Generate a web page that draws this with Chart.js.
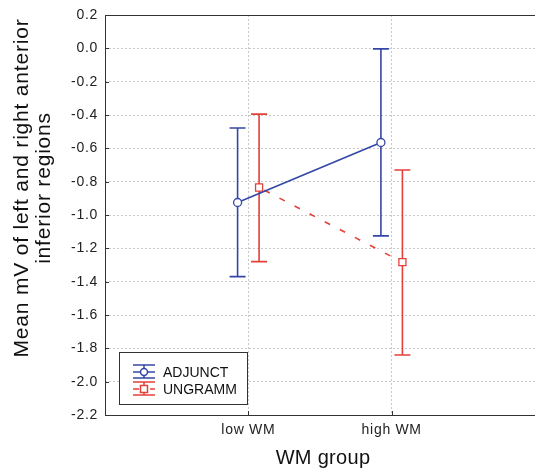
<!DOCTYPE html>
<html>
<head>
<meta charset="utf-8">
<script src="https://cdn.jsdelivr.net/npm/chart.js@4.4.0/dist/chart.umd.min.js"></script>
<style>
  html, body { margin: 0; padding: 0; background: #fff; }
</style>
</head>
<body>
<canvas id="myChart" width="536" height="472"></canvas>
<script>
// data
const groups = ['low WM', 'high WM'];
const seriesNames = ['ADJUNCT', 'UNGRAMM'];
const adjunctMean = [-0.925, -0.565];
const adjunctLow = [-1.37, -1.125];
const adjunctHigh = [-0.478, -0.003];
const ungrammMean = [-0.835, -1.283];
const ungrammLow = [-1.28, -1.84];
const ungrammHigh = [-0.395, -0.73];
const yTickValues = [0.2, 0.0, -0.2, -0.4, -0.6, -0.8, -1.0, -1.2, -1.4, -1.6, -1.8, -2.0, -2.2];
const yTitle = ['Mean mV of left and right anterior', 'inferior regions'];
const xTitle = 'WM group';

const FONT = "'Liberation Sans', Arial, sans-serif";
const BLUE = '#3447a6';
const RED = '#e4403a';
const SHIFT = 0.075; // side-by-side offset of the two series

const toPoints = (vals, dx) => vals.map((v, i) => ({x: i + 1 + dx, y: v}));

const spacing = {
  id: 'spacing',
  beforeDraw(chart) { chart.ctx.letterSpacing = '0.7px'; }
};

const errorBars = {
  id: 'errorBars',
  beforeDatasetsDraw(chart) {
    const ctx = chart.ctx;
    const ys = chart.scales.y;
    chart.data.datasets.forEach((ds, di) => {
      const meta = chart.getDatasetMeta(di);
      meta.data.forEach((pt, i) => {
        const top = ys.getPixelForValue(ds.errHigh[i]);
        const bot = ys.getPixelForValue(ds.errLow[i]);
        ctx.save();
        ctx.strokeStyle = ds.borderColor;
        ctx.lineWidth = 1.6;
        ctx.beginPath();
        ctx.moveTo(pt.x, top); ctx.lineTo(pt.x, bot);
        ctx.moveTo(pt.x - 8, top); ctx.lineTo(pt.x + 8, top);
        ctx.moveTo(pt.x - 8, bot); ctx.lineTo(pt.x + 8, bot);
        ctx.stroke();
        ctx.restore();
      });
    });
  }
};

const frame = {
  id: 'frame',
  afterDraw(chart) {
    const {ctx, chartArea: a} = chart;
    ctx.save();
    ctx.strokeStyle = '#333';
    ctx.lineWidth = 1;
    ctx.beginPath();
    ctx.moveTo(a.right, a.top + 0.5); ctx.lineTo(a.left + 0.5, a.top + 0.5);
    ctx.lineTo(a.left + 0.5, a.bottom + 0.5); ctx.lineTo(a.right, a.bottom + 0.5);
    // inward tick marks
    for (const v of yTickValues) {
      const y = Math.round(chart.scales.y.getPixelForValue(v)) + 0.5;
      ctx.moveTo(a.left, y); ctx.lineTo(a.left + 4, y);
    }
    groups.forEach((g, i) => {
      const x = Math.round(chart.scales.x.getPixelForValue(i + 1)) + 0.5;
      ctx.moveTo(x, a.bottom); ctx.lineTo(x, a.bottom - 4);
    });
    ctx.stroke();

    // axis titles
    ctx.fillStyle = '#111';
    ctx.textAlign = 'center';
    ctx.textBaseline = 'alphabetic';
    ctx.font = '20px ' + FONT;
    ctx.letterSpacing = '0.3px';
    ctx.fillText(xTitle, (a.left + a.right) / 2 + 3, 464);
    ctx.font = '21px ' + FONT;
    ctx.letterSpacing = '0.8px';
    ctx.translate(0, 188);
    ctx.rotate(-Math.PI / 2);
    ctx.fillText(yTitle[0], 0, 28);
    ctx.fillText(yTitle[1], 0, 50);
    ctx.restore();

    // legend box
    ctx.save();
    ctx.letterSpacing = '0px';
    ctx.strokeStyle = '#333';
    ctx.lineWidth = 1;
    ctx.fillStyle = '#fff';
    ctx.fillRect(119.5, 352.5, 128, 52);
    ctx.strokeRect(119.5, 352.5, 128, 52);
    ctx.font = '14px ' + FONT;
    ctx.textBaseline = 'middle';
    chart.data.datasets.forEach((ds, i) => {
      const cy = 372 + i * 17;
      const cx = 144;
      ctx.strokeStyle = ds.borderColor;
      ctx.lineWidth = 1.5;
      ctx.setLineDash([]);
      ctx.beginPath();
      ctx.moveTo(cx - 11, cy - 7); ctx.lineTo(cx + 11, cy - 7);
      ctx.moveTo(cx - 11, cy + 6); ctx.lineTo(cx + 11, cy + 6);
      ctx.moveTo(cx, cy - 7); ctx.lineTo(cx, cy + 6);
      ctx.stroke();
      ctx.setLineDash(ds.borderDash || []);
      ctx.beginPath();
      ctx.moveTo(cx - 11, cy); ctx.lineTo(cx + 11, cy);
      ctx.stroke();
      ctx.setLineDash([]);
      ctx.fillStyle = '#fff';
      if (ds.pointStyle === 'rect') {
        ctx.fillRect(cx - 3.5, cy - 3.5, 7, 7);
        ctx.strokeRect(cx - 3.5, cy - 3.5, 7, 7);
      } else {
        ctx.beginPath();
        ctx.arc(cx, cy, 3.5, 0, Math.PI * 2);
        ctx.fill(); ctx.stroke();
      }
      ctx.fillStyle = '#111';
      ctx.fillText(ds.label, 163, cy + 1);
    });
    ctx.restore();
  }
};

const chart = new Chart('myChart', {
  type: 'line',
  data: {
    datasets: [
      {
        label: seriesNames[0],
        data: toPoints(adjunctMean, -SHIFT),
        errLow: adjunctLow,
        errHigh: adjunctHigh,
        borderColor: BLUE,
        borderWidth: 1.6,
        pointStyle: 'circle',
        pointRadius: 4,
        pointBorderWidth: 1.3,
        pointBackgroundColor: '#fff',
        pointBorderColor: BLUE
      },
      {
        label: seriesNames[1],
        data: toPoints(ungrammMean, SHIFT),
        errLow: ungrammLow,
        errHigh: ungrammHigh,
        borderColor: RED,
        borderWidth: 1.6,
        borderDash: [6, 11],
        borderDashOffset: -6,
        pointStyle: 'rect',
        pointRadius: 5,
        pointBorderWidth: 1.3,
        pointBackgroundColor: '#fff',
        pointBorderColor: RED
      }
    ]
  },
  options: {
    responsive: false,
    animation: false,
    layout: {autoPadding: false, padding: {top: 15, right: 1, left: 0, bottom: 0}},
    plugins: {legend: {display: false}, tooltip: {enabled: false}},
    scales: {
      x: {
        type: 'linear',
        min: 0,
        max: 3,
        afterFit: s => { s.height = 57; s.paddingLeft = 0; s.paddingRight = 0; },
        afterBuildTicks: s => { s.ticks = groups.map((g, i) => ({value: i + 1})); },
        ticks: {
          callback: v => groups[Math.round(v) - 1],
          font: {family: FONT, size: 14},
          color: '#222',
          padding: 7,
          maxRotation: 0
        },
        grid: {color: '#c9c9c9', drawTicks: false, lineWidth: 1},
        border: {display: false, dash: [2, 2]}
      },
      y: {
        min: -2.2,
        max: 0.2,
        afterFit: s => { s.width = 105; s.paddingTop = 0; s.paddingBottom = 0; },
        afterBuildTicks: s => { s.ticks = yTickValues.map(v => ({value: v})); },
        ticks: {
          callback: v => (Math.abs(v) < 1e-9 ? 0 : v).toFixed(1),
          font: {family: FONT, size: 14},
          color: '#222',
          padding: 7
        },
        grid: {color: '#c9c9c9', drawTicks: false, lineWidth: 1},
        border: {display: false, dash: [2, 2]}
      }
    }
  },
  plugins: [spacing, errorBars, frame]
});
</script>
</body>
</html>
